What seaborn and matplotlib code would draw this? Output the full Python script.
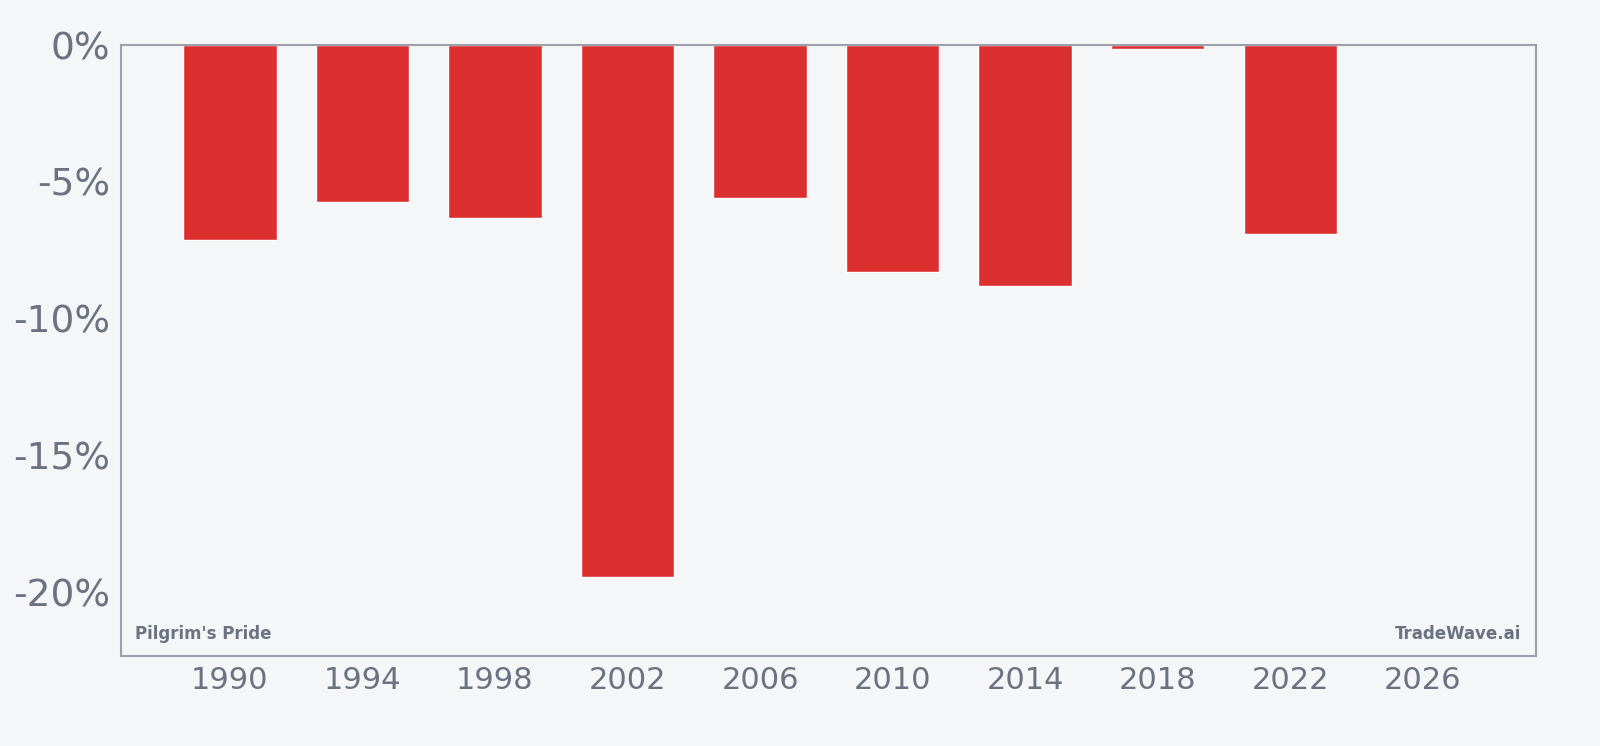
import matplotlib
matplotlib.use('Agg')
import matplotlib.pyplot as plt
import seaborn as sns
import pandas as pd

# 연도별 수익률 (%)
years = [1990, 1994, 1998, 2002, 2006, 2010, 2014, 2018, 2022]
returns = [-7.12, -5.72, -6.32, -19.42, -5.57, -8.3, -8.8, -0.15, -6.9]
x_ticks = [1990, 1994, 1998, 2002, 2006, 2010, 2014, 2018, 2022, 2026]
y_ticks = [0, -5, -10, -15, -20]

bg = '#f4f6f8'
text_color = '#6b7280'
spine_color = '#9ca0aa'
bar_color = '#dc3030'

sns.set_theme(style='white')
plt.rcParams['font.family'] = ['DejaVu Sans']

df = pd.DataFrame({'year': years, 'ret': returns})

fig = plt.figure(figsize=(16, 7.46), dpi=100, facecolor=bg)
ax = fig.add_axes([120.5 / 1600, 1 - 656 / 746, (1535.5 - 120.5) / 1600, (656 - 45) / 746])
ax.set_facecolor(bg)

# seaborn barplot은 범주형 축을 쓰므로 native_scale로 실제 연도 위치에 그린다
sns.barplot(data=df, x='year', y='ret', native_scale=True, width=2.82 / 4,
            color=bar_color, saturation=1, ax=ax)

ax.set_xlim(1986.7, 2029.4)
ax.set_ylim(-22.3, 0)
ax.set_xticks(x_ticks)
ax.set_xticklabels([str(y) for y in x_ticks], fontsize=22, color=text_color)
ax.set_yticks(y_ticks)
ax.set_yticklabels([f'{v}%' for v in y_ticks], fontsize=27, color=text_color)
ax.set_xlabel('')
ax.set_ylabel('')
ax.tick_params(axis='both', length=5, width=1, color=spine_color)
ax.tick_params(axis='x', pad=2.5)
ax.tick_params(axis='y', pad=2.5)

for s in ax.spines.values():
    s.set_color(spine_color)
    s.set_linewidth(1.5)

ax.text(0.01, 0.022, "Pilgrim's Pride", transform=ax.transAxes, fontsize=12,
        fontweight='bold', color=text_color, ha='left', va='bottom')
ax.text(0.99, 0.022, 'TradeWave.ai', transform=ax.transAxes, fontsize=12,
        fontweight='bold', color=text_color, ha='right', va='bottom')

fig.savefig('out.png', dpi=100, facecolor=bg)
